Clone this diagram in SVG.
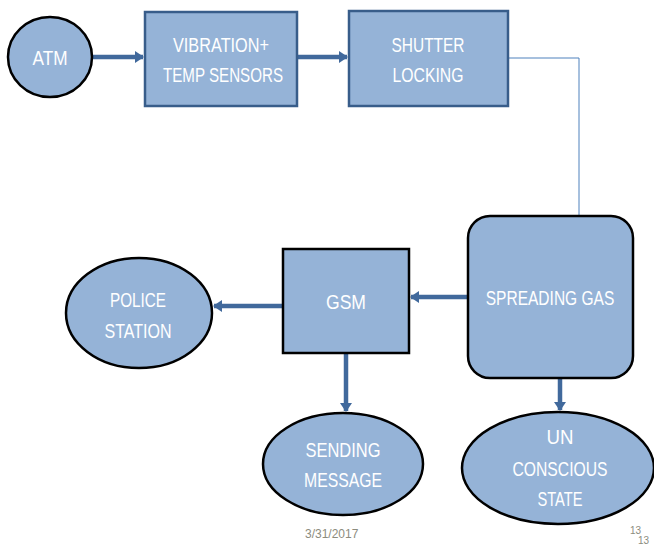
<svg xmlns="http://www.w3.org/2000/svg" width="654" height="546" viewBox="0 0 654 546">
<style>
.n{fill:#95B3D7}
.bs{stroke:#385D8A;stroke-width:2.5}
.ks{stroke:#000;stroke-width:2.5}
.t{font-family:"Liberation Sans",Arial,sans-serif;font-size:21px;fill:#fff;text-anchor:middle}
.c{stroke:#41699C;stroke-width:4.5;fill:none}
.thin{stroke:#4F81BD;stroke-width:1;fill:none}
.foot{font-family:"Liberation Sans",Arial,sans-serif;font-size:12px;fill:#8C8C7E}
.pg{font-family:"Liberation Sans",Arial,sans-serif;font-size:10px;fill:#8C8C7E}
</style>
<defs>
<marker id="ah" markerUnits="userSpaceOnUse" markerWidth="10" markerHeight="12" refX="8" refY="6" orient="auto">
<path d="M0,0 L9,6 L0,12 Z" fill="#41699C"/>
</marker>
</defs>
<rect width="654" height="546" fill="#fff"/>
<g id="connectors">
<line class="c" x1="93" y1="57" x2="143" y2="57" marker-end="url(#ah)"/>
<line class="c" x1="297" y1="57" x2="347" y2="57" marker-end="url(#ah)"/>
<polyline class="thin" points="508,58 579,58 579,224"/>
<line class="c" x1="468" y1="297" x2="411" y2="297" marker-end="url(#ah)"/>
<line class="c" x1="283" y1="306" x2="214" y2="306" marker-end="url(#ah)"/>
<line class="c" x1="346" y1="353" x2="346" y2="411" marker-end="url(#ah)"/>
<line class="c" x1="560" y1="378" x2="560" y2="410" marker-end="url(#ah)"/>
</g>
<g id="atm">
<ellipse class="n ks" cx="50" cy="57" rx="42" ry="40"/>
<text class="t" x="50" y="65" textLength="35" lengthAdjust="spacingAndGlyphs">ATM</text>
</g>
<g id="vibration">
<rect class="n bs" x="145" y="12" width="152" height="94"/>
<text class="t" x="221" y="52" textLength="96" lengthAdjust="spacingAndGlyphs">VIBRATION+</text>
<text class="t" x="223" y="82" textLength="120" lengthAdjust="spacingAndGlyphs">TEMP SENSORS</text>
</g>
<g id="shutter">
<rect class="n bs" x="349" y="11" width="159" height="95"/>
<text class="t" x="428" y="52" textLength="73" lengthAdjust="spacingAndGlyphs">SHUTTER</text>
<text class="t" x="428" y="82" textLength="71" lengthAdjust="spacingAndGlyphs">LOCKING</text>
</g>
<g id="spreading">
<rect class="n ks" x="468" y="216" width="165" height="162" rx="22"/>
<text class="t" transform="translate(550,305) scale(0.74,1)" x="0" y="0">SPREADING GAS</text>
</g>
<g id="gsm">
<rect class="n ks" x="283" y="249" width="126" height="104"/>
<text class="t" x="346" y="309" textLength="40" lengthAdjust="spacingAndGlyphs">GSM</text>
</g>
<g id="police">
<ellipse class="n ks" cx="139" cy="313" rx="73" ry="55"/>
<text class="t" x="138" y="307" textLength="56" lengthAdjust="spacingAndGlyphs">POLICE</text>
<text class="t" x="138" y="338" textLength="67" lengthAdjust="spacingAndGlyphs">STATION</text>
</g>
<g id="sending">
<ellipse class="n ks" cx="343" cy="464" rx="80" ry="51"/>
<text class="t" x="343" y="457" textLength="75" lengthAdjust="spacingAndGlyphs">SENDING</text>
<text class="t" x="343" y="487" textLength="78" lengthAdjust="spacingAndGlyphs">MESSAGE</text>
</g>
<g id="unconscious">
<ellipse class="n ks" cx="558" cy="468" rx="96" ry="56"/>
<text class="t" x="560" y="444" textLength="27" lengthAdjust="spacingAndGlyphs">UN</text>
<text class="t" x="560" y="476" textLength="95" lengthAdjust="spacingAndGlyphs">CONSCIOUS</text>
<text class="t" x="560" y="506" textLength="45" lengthAdjust="spacingAndGlyphs">STATE</text>
</g>
<text class="foot" x="305" y="538">3/31/2017</text>
<text class="pg" x="630" y="534">13</text>
<text class="pg" x="638" y="544">13</text>
</svg>
